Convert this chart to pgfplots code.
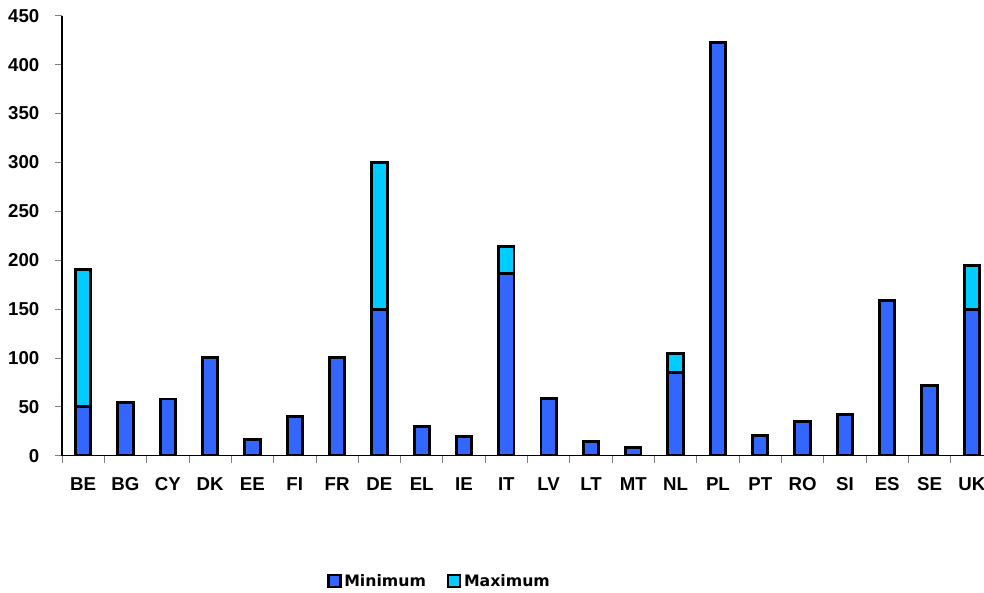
\documentclass[border=0pt]{standalone}
\usepackage{pgfplots}
\pgfplotsset{compat=1.18}
\usepackage{fontspec}
\setmainfont{Liberation Sans}
\newfontfamily\legfont{DejaVu Sans}
\definecolor{minblue}{HTML}{3366FF}
\definecolor{maxcyan}{HTML}{00CCFF}

\begin{document}
\begin{tikzpicture}
\begin{axis}[
    scale only axis,
    width=698.25pt, height=330pt,
    ybar stacked, bar width=11.5pt,
    xmin=-0.5, xmax=21.5, ymin=0, ymax=450,
    axis x line*=bottom, axis y line*=left,
    axis line style={black, line width=1.1pt},
    xtick={-0.5,0.5,...,21.5},
    x tick label as interval,
    xticklabels={BE,BG,CY,DK,EE,FI,FR,DE,EL,IE,IT,LV,LT,MT,NL,PL,PT,RO,SI,ES,SE,UK},
    ytick={0,50,...,450},
    tick align=outside,
    major tick length=5.5pt,
    tick style={gray, line width=0.6pt},
    /pgf/number format/assume math mode=true,
    ticklabel style={font=\bfseries\fontsize{14}{16}\selectfont},
    x tick label style={yshift=-7.5pt},
    y tick label style={xshift=-8pt},
    legend style={at={(0.406,-0.285)}, anchor=center, draw=none,
        font=\legfont\bfseries\fontsize{11.8}{14}\selectfont,
        /tikz/every even column/.append style={column sep=14pt}},
    legend columns=2,
    legend image code/.code={\draw[#1, line width=1.6pt] (0pt,-4.5pt) rectangle (9pt,4.5pt);},
]
\addplot[fill=minblue, draw=black, line width=2.2pt] coordinates {
(0,50) (1,54) (2,58) (3,100) (4,17) (5,40) (6,100) (7,150) (8,30) (9,20) (10,186)
(11,59) (12,15) (13,8) (14,85) (15,423) (16,21) (17,35) (18,42) (19,159) (20,72) (21,150)};
\addlegendentry{Minimum}
\addplot[fill=maxcyan, draw=black, line width=2.2pt] coordinates {
(0,140) (1,0) (2,0) (3,0) (4,0) (5,0) (6,0) (7,150) (8,0) (9,0) (10,28)
(11,0) (12,0) (13,0) (14,20) (15,0) (16,0) (17,0) (18,0) (19,0) (20,0) (21,45)};
\addlegendentry{Maximum}
\end{axis}
\pgfresetboundingbox
\useasboundingbox (-46.5pt,-102.2pt) rectangle (691.5pt,341.8pt);
\end{tikzpicture}
\end{document}
